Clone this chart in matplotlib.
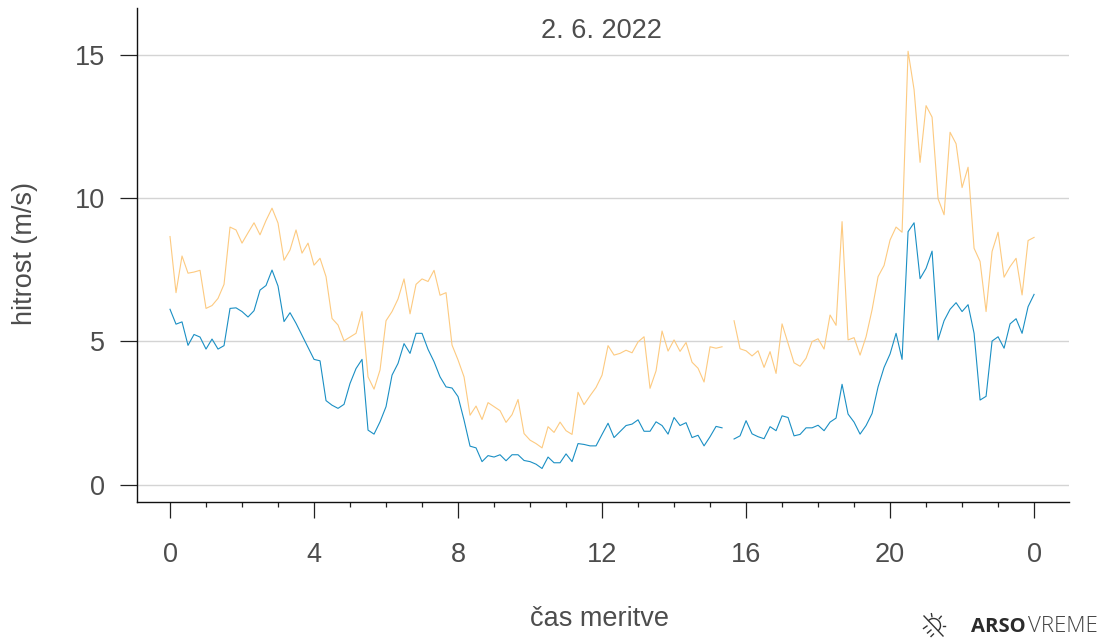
#!/usr/bin/env python3
"""Hitrost vetra: 10-minute mean and gust for 2. 6. 2022."""

import matplotlib
matplotlib.use("Agg")
import matplotlib.pyplot as plt
import numpy as np
from matplotlib.lines import Line2D

plt.rcParams["font.family"] = ["Liberation Sans", "DejaVu Sans"]

nan = float("nan")

# one reading every 10 minutes, 145 readings
minutes = list(range(0, 1450, 10))

mean_speed = [
    6.12, 5.60, 5.68, 4.86, 5.24, 5.15, 4.73, 5.08, 4.73, 4.85, 6.15, 6.17,
    6.04, 5.85, 6.07, 6.79, 6.95, 7.49, 6.93, 5.69, 6.00, 5.63, 5.21, 4.79,
    4.37, 4.32, 2.93, 2.77, 2.66, 2.80, 3.53, 4.05, 4.37, 1.90, 1.76, 2.19,
    2.72, 3.82, 4.23, 4.92, 4.58, 5.28, 5.28, 4.72, 4.29, 3.76, 3.41, 3.37,
    3.07, 2.25, 1.34, 1.28, 0.80, 1.01, 0.96, 1.04, 0.83, 1.04, 1.04, 0.84,
    0.80, 0.71, 0.56, 0.96, 0.76, 0.76, 1.07, 0.80, 1.43, 1.40, 1.35, 1.35,
    1.75, 2.14, 1.64, 1.85, 2.06, 2.11, 2.26, 1.86, 1.86, 2.19, 2.06, 1.76,
    2.34, 2.06, 2.16, 1.64, 1.72, 1.35, 1.67, 2.03, 1.98, nan, 1.59, 1.70,
    2.23, 1.77, 1.67, 1.60, 2.02, 1.88, 2.40, 2.34, 1.70, 1.75, 1.98, 1.98,
    2.07, 1.88, 2.18, 2.32, 3.50, 2.46, 2.18, 1.76, 2.06, 2.48, 3.41, 4.09,
    4.56, 5.28, 4.37, 8.83, 9.14, 7.19, 7.55, 8.15, 5.05, 5.72, 6.12, 6.35,
    6.04, 6.28, 5.28, 2.95, 3.08, 5.01, 5.16, 4.76, 5.61, 5.79, 5.28, 6.21,
    6.64,
]

gust_speed = [
    8.66, 6.70, 7.98, 7.38, 7.42, 7.48, 6.15, 6.25, 6.50, 6.99, 8.99, 8.89,
    8.43, 8.79, 9.14, 8.72, 9.22, 9.65, 9.13, 7.83, 8.19, 8.89, 8.08, 8.43,
    7.66, 7.90, 7.26, 5.80, 5.57, 5.02, 5.15, 5.28, 6.04, 3.76, 3.33, 4.00,
    5.72, 6.04, 6.48, 7.18, 5.96, 6.99, 7.18, 7.09, 7.48, 6.61, 6.70, 4.87,
    4.35, 3.76, 2.42, 2.74, 2.27, 2.86, 2.72, 2.58, 2.17, 2.44, 2.97, 1.78,
    1.55, 1.43, 1.28, 2.02, 1.82, 2.18, 1.88, 1.75, 3.22, 2.79, 3.10, 3.39,
    3.82, 4.85, 4.52, 4.58, 4.69, 4.60, 4.98, 5.16, 3.36, 3.97, 5.36, 4.66,
    5.05, 4.65, 4.96, 4.27, 4.06, 3.58, 4.81, 4.76, 4.81, nan, 5.72, 4.74,
    4.67, 4.49, 4.67, 4.09, 4.64, 3.88, 5.61, 4.93, 4.25, 4.13, 4.41, 4.99,
    5.09, 4.73, 5.92, 5.56, 9.18, 5.05, 5.13, 4.52, 5.16, 6.10, 7.26, 7.65,
    8.54, 8.99, 8.81, 15.13, 13.79, 11.25, 13.23, 12.83, 9.98, 9.42, 12.30,
    11.90, 10.37, 11.08, 8.25, 7.79, 6.04, 8.14, 8.81, 7.24, 7.61, 7.90,
    6.62, 8.52, 8.63,
]

hour_ticks = [0, 4, 8, 12, 16, 20, 24]
hour_labels = ["0", "4", "8", "12", "16", "20", "0"]
speed_ticks = [0, 5, 10, 15]

TEXT = "#4d4d4d"
W, H = 1104, 640


def fig_x(px):
    return px / W


def fig_y(py):
    return 1 - py / H


def draw_logo(fig):
    # crossed-out sun, drawn stroke by stroke in pixel positions
    cx, cy, r = 933.5, 625.5, 7
    segs = [((924, 616), (943, 636))]
    for a in (100, 50, 0):
        t = np.radians(a)
        segs.append(((cx + (r + 2) * np.cos(t), cy - (r + 2) * np.sin(t)),
                     (cx + (r + 5) * np.cos(t), cy - (r + 5) * np.sin(t))))
    segs += [((923.5, 628.5), (927, 626)), ((927.5, 633), (931, 630)), ((931, 636.5), (933.5, 634))]
    line_color = "#333333"
    for (x0, y0), (x1, y1) in segs:
        fig.add_artist(Line2D([fig_x(x0), fig_x(x1)], [fig_y(y0), fig_y(y1)],
                              color=line_color, lw=1))
    t = np.radians(np.linspace(-45, 135, 30))
    fig.add_artist(Line2D(fig_x(cx + r * np.cos(t)), fig_y(cy - r * np.sin(t)),
                          color=line_color, lw=1))
    fig.text(fig_x(971), fig_y(627), "ARSO", fontsize=14.6, fontweight="bold",
             color="#2b2b2b", va="center", family=["Open Sans", "DejaVu Sans"])
    fig.text(fig_x(1028), fig_y(627), "VREME", fontsize=16, fontweight="light",
             color="#444444", va="center", family=["Open Sans", "DejaVu Sans"])


def main():
    fig = plt.figure(figsize=(W / 100, H / 100), dpi=100)
    ax = fig.add_axes([137 / W, 1 - 502 / H, (1069 - 137) / W, (502 - 8) / H])

    hours = [m / 60 for m in minutes]
    ax.plot(hours, gust_speed, color="#fdca80", lw=0.8, zorder=3)
    ax.plot(hours, mean_speed, color="#1a8fc4", lw=0.8, zorder=4)

    ax.set_xlim(-0.917, 24.97)
    ax.set_ylim(-0.61, 16.64)

    ax.set_xticks(hour_ticks)
    ax.set_xticklabels(hour_labels)
    ax.set_xticks(range(0, 25), minor=True)
    ax.set_yticks(speed_ticks)

    ax.tick_params(axis="x", which="major", length=11.5, width=0.9, color="#222222",
                   labelsize=19.5, labelcolor=TEXT, pad=17)
    ax.tick_params(axis="x", which="minor", length=3.4, width=0.9, color="#222222")
    ax.tick_params(axis="y", which="major", length=12.2, width=0.9, color="#222222",
                   labelsize=19.5, labelcolor=TEXT, pad=11)

    ax.yaxis.grid(True, color="#d4d4d4", lw=1)
    ax.set_axisbelow(True)

    for side in ("top", "right"):
        ax.spines[side].set_visible(False)
    for side in ("left", "bottom"):
        ax.spines[side].set_color("#111111")
        ax.spines[side].set_linewidth(1)

    fig.text(fig_x(601), fig_y(31.5), "2. 6. 2022", fontsize=19.5, color=TEXT,
             ha="center", va="center")
    fig.text(fig_x(25), fig_y(253.5), "hitrost (m/s)", fontsize=19.5, color=TEXT,
             rotation=90, ha="center", va="center")
    fig.text(fig_x(600), fig_y(619), "čas meritve", fontsize=19.5, color=TEXT,
             ha="center", va="center")

    draw_logo(fig)
    fig.savefig("out.png", dpi=100)


if __name__ == "__main__":
    main()
